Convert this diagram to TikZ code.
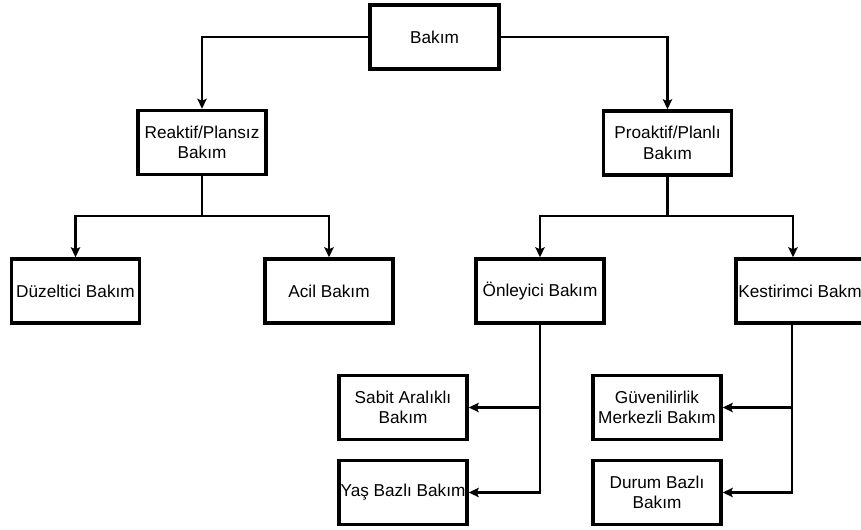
\documentclass[tikz,border=0pt]{standalone}
\usepackage{fontspec}
\setmainfont{Liberation Sans}
\usetikzlibrary{arrows.meta}
\begin{document}
\begin{tikzpicture}[x=0.75pt,y=-0.75pt,
  box/.style={draw=black,line width=2.6pt,fill=white,minimum width=96pt,minimum height=48pt,
    inner sep=0pt,align=center,font=\fontsize{12.9}{15.3}\selectfont},
  arr/.style={line width=1.9pt,-{Stealth[length=7.5pt,width=7pt,inset=1.5pt]}},
  wire/.style={line width=1.9pt}]
\clip (0,0) rectangle (861,529);
\fill[white] (0,0) rectangle (861,529);

% top level
\node[box,minimum width=96.75pt] (bakim) at (434.5,37) {Bakım};

% second level
\node[box] (reaktif)  at (202,142.5) {Reaktif/Plansız\\Bakım};
\node[box] (proaktif) at (667.5,143) {Proaktif/Planlı\\Bakım};

% third level
\node[box] (duz)  at (75.5,291) {Düzeltici Bakım};
\node[box] (acil) at (329,291)  {Acil Bakım};
\node[box] (onl)  at (540,291)  {Önleyici Bakım};
\node[box] (kes)  at (800,291)  {Kestirimci Bakm};

% fourth level
\node[box] (sabit) at (403,407.5) {Sabit Aralıklı\\Bakım};
\node[box] (yas)   at (403,492.5) {Yaş Bazlı Bakım};
\node[box] (guv)   at (657,407.5) {Güvenilirlik\\Merkezli Bakım};
\node[box] (durum) at (657,492.5) {Durum Bazlı\\Bakım};

% junction points of the branching connectors
\coordinate (rj) at (202,216);
\coordinate (pj) at (667.5,216);

% connectors
\draw[arr] (bakim.west) -| (reaktif.north);
\draw[arr] (bakim.east) -| (proaktif.north);

\draw[wire] (reaktif.south) -- (rj);
\draw[arr] (rj) -| (duz.north);
\draw[arr] (rj) -| (acil.north);

\draw[wire] (proaktif.south) -- (pj);
\draw[arr] (pj) -| (onl.north);
\draw[arr] (pj) -| ([xshift=-5.25pt]kes.north);

\draw[arr] (onl.south) |- (sabit.east);
\draw[arr] (onl.south) |- (yas.east);

\draw[arr] ([xshift=-6pt]kes.south) |- (guv.east);
\draw[arr] ([xshift=-6pt]kes.south) |- (durum.east);
\end{tikzpicture}
\end{document}
